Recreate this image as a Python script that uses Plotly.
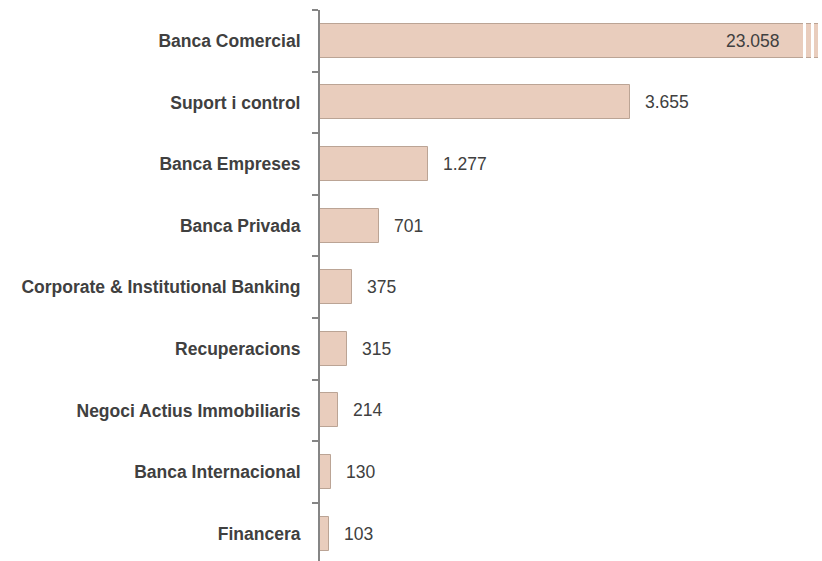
import plotly.graph_objects as go

# Headcount by business area
areas = [
    "Banca Comercial",
    "Suport i control",
    "Banca Empreses",
    "Banca Privada",
    "Corporate & Institutional Banking",
    "Recuperacions",
    "Negoci Actius Immobiliaris",
    "Banca Internacional",
    "Financera",
]
employees = [23058, 3655, 1277, 701, 375, 315, 214, 130, 103]

BAR_FILL = "#E9CDBD"
BAR_EDGE = "#BBA495"
AXIS_GREY = "#858585"
TEXT_GREY = "#404040"
LABEL_FONT = "Liberation Sans, Arial, sans-serif"

W, H = 822, 561
M_L, M_R, M_T, M_B = 320, 4, 10, 0
plot_w = W - M_L - M_R

# The first bar is far larger than the rest: the x range is set so the
# others keep a readable scale, and the long bar is cut with a break mark.
x_max = 5873

positions = list(range(len(areas)))


def fmt(v):
    return f"{v:,}".replace(",", ".")


fig = go.Figure()
fig.add_trace(
    go.Bar(
        x=employees,
        y=positions,
        orientation="h",
        width=0.55,
        marker=dict(color=BAR_FILL, line=dict(color=BAR_EDGE, width=1)),
        hoverinfo="skip",
        cliponaxis=True,
    )
)

annotations = []
for i, v in enumerate(employees):
    if v > x_max:
        continue
    annotations.append(
        dict(
            x=v, y=i, xref="x", yref="y", text=fmt(v), showarrow=False,
            xanchor="left", yanchor="middle", xshift=13,
            font=dict(family=LABEL_FONT, size=17.5, color=TEXT_GREY),
        )
    )

# break in the truncated bar (two narrow white gaps near the right edge)
gap_px = [(803 - M_L, 806 - M_L), (811 - M_L, 814 - M_L)]
shapes = []
for a, b in gap_px:
    shapes.append(
        dict(
            type="rect", xref="paper", yref="y",
            x0=a / plot_w, x1=b / plot_w, y0=-0.35, y1=0.35,
            fillcolor="white", line=dict(width=0), layer="above",
        )
    )

# value of the truncated bar, written inside it just before the break
for i, v in enumerate(employees):
    if v > x_max:
        annotations.append(
            dict(
                x=gap_px[0][0] / plot_w, y=i, xref="paper", yref="y",
                text=fmt(v), showarrow=False,
                xanchor="right", yanchor="middle", xshift=-21,
                font=dict(family=LABEL_FONT, size=17.5, color=TEXT_GREY),
            )
        )

n = len(areas)
fig.update_layout(
    width=W,
    height=H,
    margin=dict(l=M_L, r=M_R, t=M_T, b=M_B, pad=0, autoexpand=False),
    paper_bgcolor="white",
    plot_bgcolor="white",
    showlegend=False,
    bargap=0,
    shapes=shapes,
    annotations=annotations,
    xaxis=dict(
        range=[0, x_max],
        visible=False,
        fixedrange=True,
    ),
    yaxis=dict(
        range=[8.445, -0.5],
        automargin=False,
        tickmode="array",
        tickvals=positions,
        ticktext=[f"<b>{a}</b>" for a in areas],
        ticks="",
        ticklabelstandoff=14,
        tickfont=dict(family=LABEL_FONT, size=17.5, color=TEXT_GREY),
        showline=True,
        linecolor=AXIS_GREY,
        linewidth=2,
        showgrid=False,
        zeroline=False,
        minor=dict(
            tickmode="array",
            tickvals=[k - 0.5 for k in range(n + 1)],
            ticks="outside",
            ticklen=6,
            tickwidth=1.5,
            tickcolor=AXIS_GREY,
            showgrid=False,
        ),
        fixedrange=True,
    ),
)

fig.write_html("out.html")
